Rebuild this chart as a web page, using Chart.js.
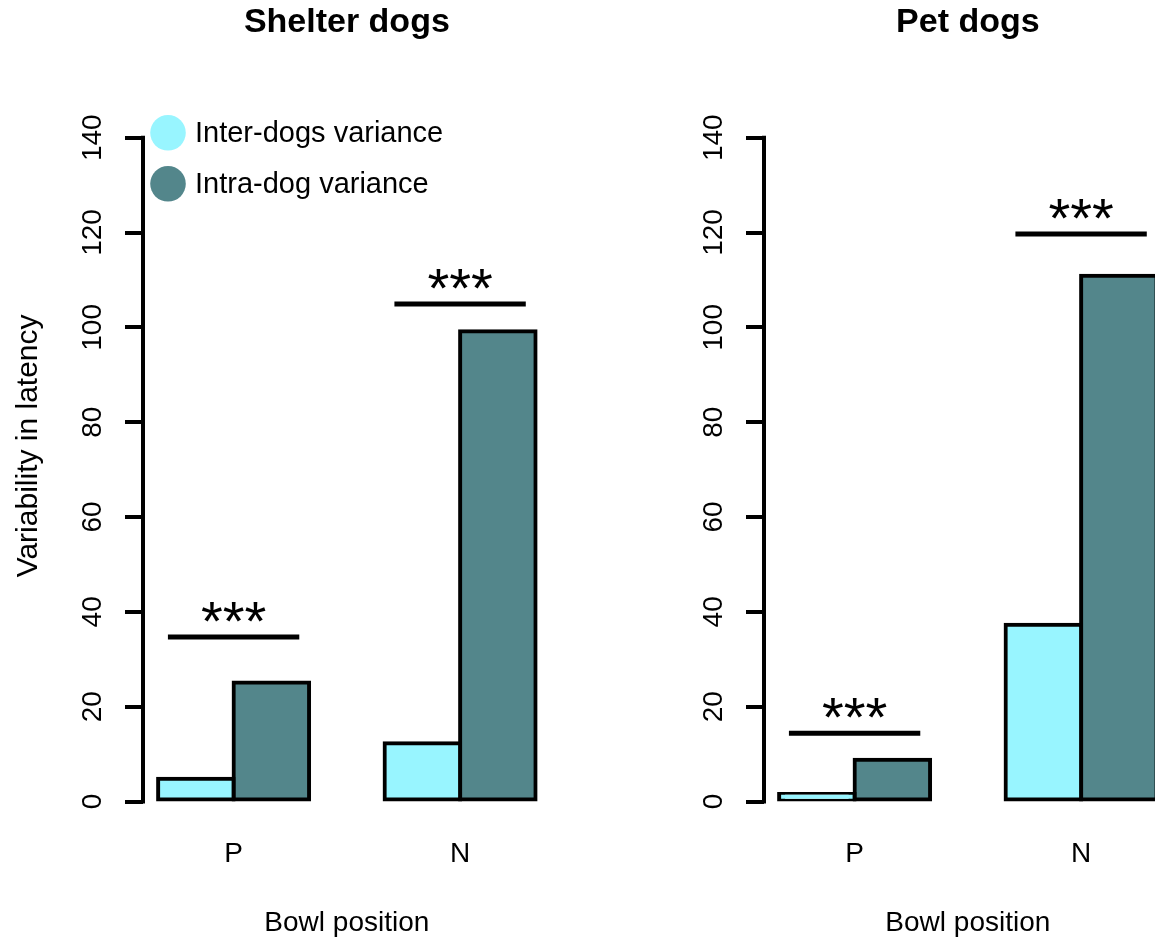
<!DOCTYPE html>
<html>
<head>
<meta charset="utf-8">
<script src="https://cdn.jsdelivr.net/npm/chart.js@4.4.1/dist/chart.umd.min.js"></script>
<style>
  html, body { margin: 0; padding: 0; background: #fff; width: 1155px; height: 940px; overflow: hidden; }
  canvas { position: absolute; top: 0; }
</style>
</head>
<body>
<canvas id="shelter" width="580" height="940" style="left:0"></canvas>
<canvas id="pet" width="580" height="940" style="left:621px"></canvas>
<script>
// categories and series
var groups = ["P", "N"];
var seriesNames = ["Inter-dogs variance", "Intra-dog variance"];
var seriesColors = ["#98F5FF", "#53868B"];

// Shelter dogs
var shelterInter = [4.8, 12.3];
var shelterIntra = [25.1, 99.2];
var shelterSig = [34.7, 104.9];

// Pet dogs
var petInter = [1.6, 37.3];
var petIntra = [8.8, 110.9];
var petSig = [14.4, 119.7];

var sigText = "***";
var yTicks = [0, 20, 40, 60, 80, 100, 120, 140];
var yRange = [-6, 156];
var xRange = [0.8, 6.2];

var FONT = "'Liberation Sans', Arial, Helvetica, sans-serif";
Chart.defaults.font.family = FONT;
Chart.defaults.color = "#000";

// barplot style: bars of width 1, one empty unit before each group
function groupCenter(i) {
  return 2 + 3 * i;
}

// R draws the y axis line only from first to last tick
var axisLinePlugin = {
  id: "axisLine",
  afterDraw: function (chart) {
    var ctx = chart.ctx, y = chart.scales.y, x0 = chart.chartArea.left;
    ctx.save();
    ctx.strokeStyle = "#000";
    ctx.lineWidth = 4;
    ctx.lineCap = "square";
    ctx.beginPath();
    ctx.moveTo(x0, y.getPixelForValue(yTicks[0]));
    ctx.lineTo(x0, y.getPixelForValue(yTicks[yTicks.length - 1]));
    ctx.stroke();
    ctx.restore();
  }
};

var legendPlugin = {
  id: "dogLegend",
  afterDraw: function (chart) {
    var ctx = chart.ctx, a = chart.chartArea;
    ctx.save();
    ctx.font = "29px " + FONT;
    ctx.textBaseline = "middle";
    ctx.textAlign = "left";
    chart.data.datasets.forEach(function (ds, k) {
      if (ds.type !== "bar") return;
      var cy = a.top + 71 + k * 51;
      ctx.fillStyle = ds.backgroundColor;
      ctx.beginPath();
      ctx.arc(a.left + 25, cy, 17.8, 0, Math.PI * 2);
      ctx.fill();
      ctx.fillStyle = "#000";
      ctx.fillText(ds.label, a.left + 52, cy + 1);
    });
    ctx.restore();
  }
};

function starsPlugin(sig) {
  return {
    id: "stars",
    afterDatasetsDraw: function (chart) {
      var ctx = chart.ctx, xs = chart.scales.x, ys = chart.scales.y;
      ctx.save();
      ctx.font = "56px " + FONT;
      ctx.fillStyle = "#000";
      ctx.textAlign = "center";
      ctx.textBaseline = "alphabetic";
      sig.forEach(function (h, i) {
        ctx.fillText(sigText, xs.getPixelForValue(groupCenter(i)), ys.getPixelForValue(h) + 3);
      });
      ctx.restore();
    }
  };
}

function makeChart(id, title, inter, intra, sig, showYTitle, showLegend) {
  var datasets = [inter, intra].map(function (vals, k) {
    return {
      type: "bar",
      label: seriesNames[k],
      data: vals.map(function (v, i) { return { x: groupCenter(i), y: v }; }),
      backgroundColor: seriesColors[k],
      borderColor: "#000",
      borderWidth: 4,
      inflateAmount: 2,
      borderSkipped: false,
      categoryPercentage: 2 / 3,
      barPercentage: 1
    };
  });

  var sigPts = [];
  sig.forEach(function (h, i) {
    sigPts.push({ x: groupCenter(i) - 0.87, y: h });
    sigPts.push({ x: groupCenter(i) + 0.87, y: h });
    sigPts.push({ x: groupCenter(i) + 1.5, y: null });
  });
  datasets.push({
    type: "line",
    label: "sig",
    data: sigPts,
    borderColor: "#000",
    borderWidth: 5,
    borderCapStyle: "butt",
    pointRadius: 0,
    spanGaps: false,
    fill: false
  });

  var plugins = [axisLinePlugin, starsPlugin(sig)];
  if (showLegend) plugins.push(legendPlugin);

  return new Chart(document.getElementById(id), {
    type: "bar",
    data: { datasets: datasets },
    plugins: plugins,
    options: {
      responsive: false,
      animation: false,
      events: [],
      layout: { padding: { left: 0, right: 29.3, top: 0, bottom: 0 } },
      plugins: {
        legend: { display: false },
        tooltip: { enabled: false },
        title: {
          display: true,
          text: title,
          fullSize: false,
          color: "#000",
          font: { size: 34, weight: "bold" },
          padding: { top: 2, bottom: 19 }
        }
      },
      scales: {
        x: {
          type: "linear",
          min: xRange[0],
          max: xRange[1],
          offset: false,
          grid: { display: false, drawTicks: false },
          border: { display: false },
          afterBuildTicks: function (s) {
            s.ticks = groups.map(function (g, i) { return { value: groupCenter(i) }; });
          },
          ticks: {
            font: { size: 28 },
            color: "#000",
            padding: 7,
            maxRotation: 0,
            autoSkip: false,
            callback: function (v, i) { return groups[i]; }
          },
          title: {
            display: true,
            text: "Bowl position",
            color: "#000",
            font: { size: 28 },
            padding: { top: 28.6, bottom: 0.2 }
          }
        },
        y: {
          type: "linear",
          min: yRange[0],
          max: yRange[1],
          afterBuildTicks: function (s) {
            s.ticks = yTicks.map(function (v) { return { value: v }; });
          },
          afterFit: function (s) { s.width = 143; },
          grid: {
            drawOnChartArea: false,
            drawTicks: true,
            tickLength: 18,
            lineWidth: 4,
            color: "#000"
          },
          border: { display: false },
          ticks: {
            font: { size: 28 },
            color: "#000",
            minRotation: 90,
            maxRotation: 90,
            crossAlign: "center",
            padding: 8,
            autoSkip: false,
            callback: function (v) { return String(v); }
          },
          title: {
            display: showYTitle,
            text: "Variability in latency",
            color: "#000",
            font: { size: 30 },
            padding: { top: 11, bottom: 0 }
          }
        }
      }
    }
  });
}

makeChart("shelter", "Shelter dogs", shelterInter, shelterIntra, shelterSig, true, true);
makeChart("pet", "Pet dogs", petInter, petIntra, petSig, false, false);
</script>
</body>
</html>
